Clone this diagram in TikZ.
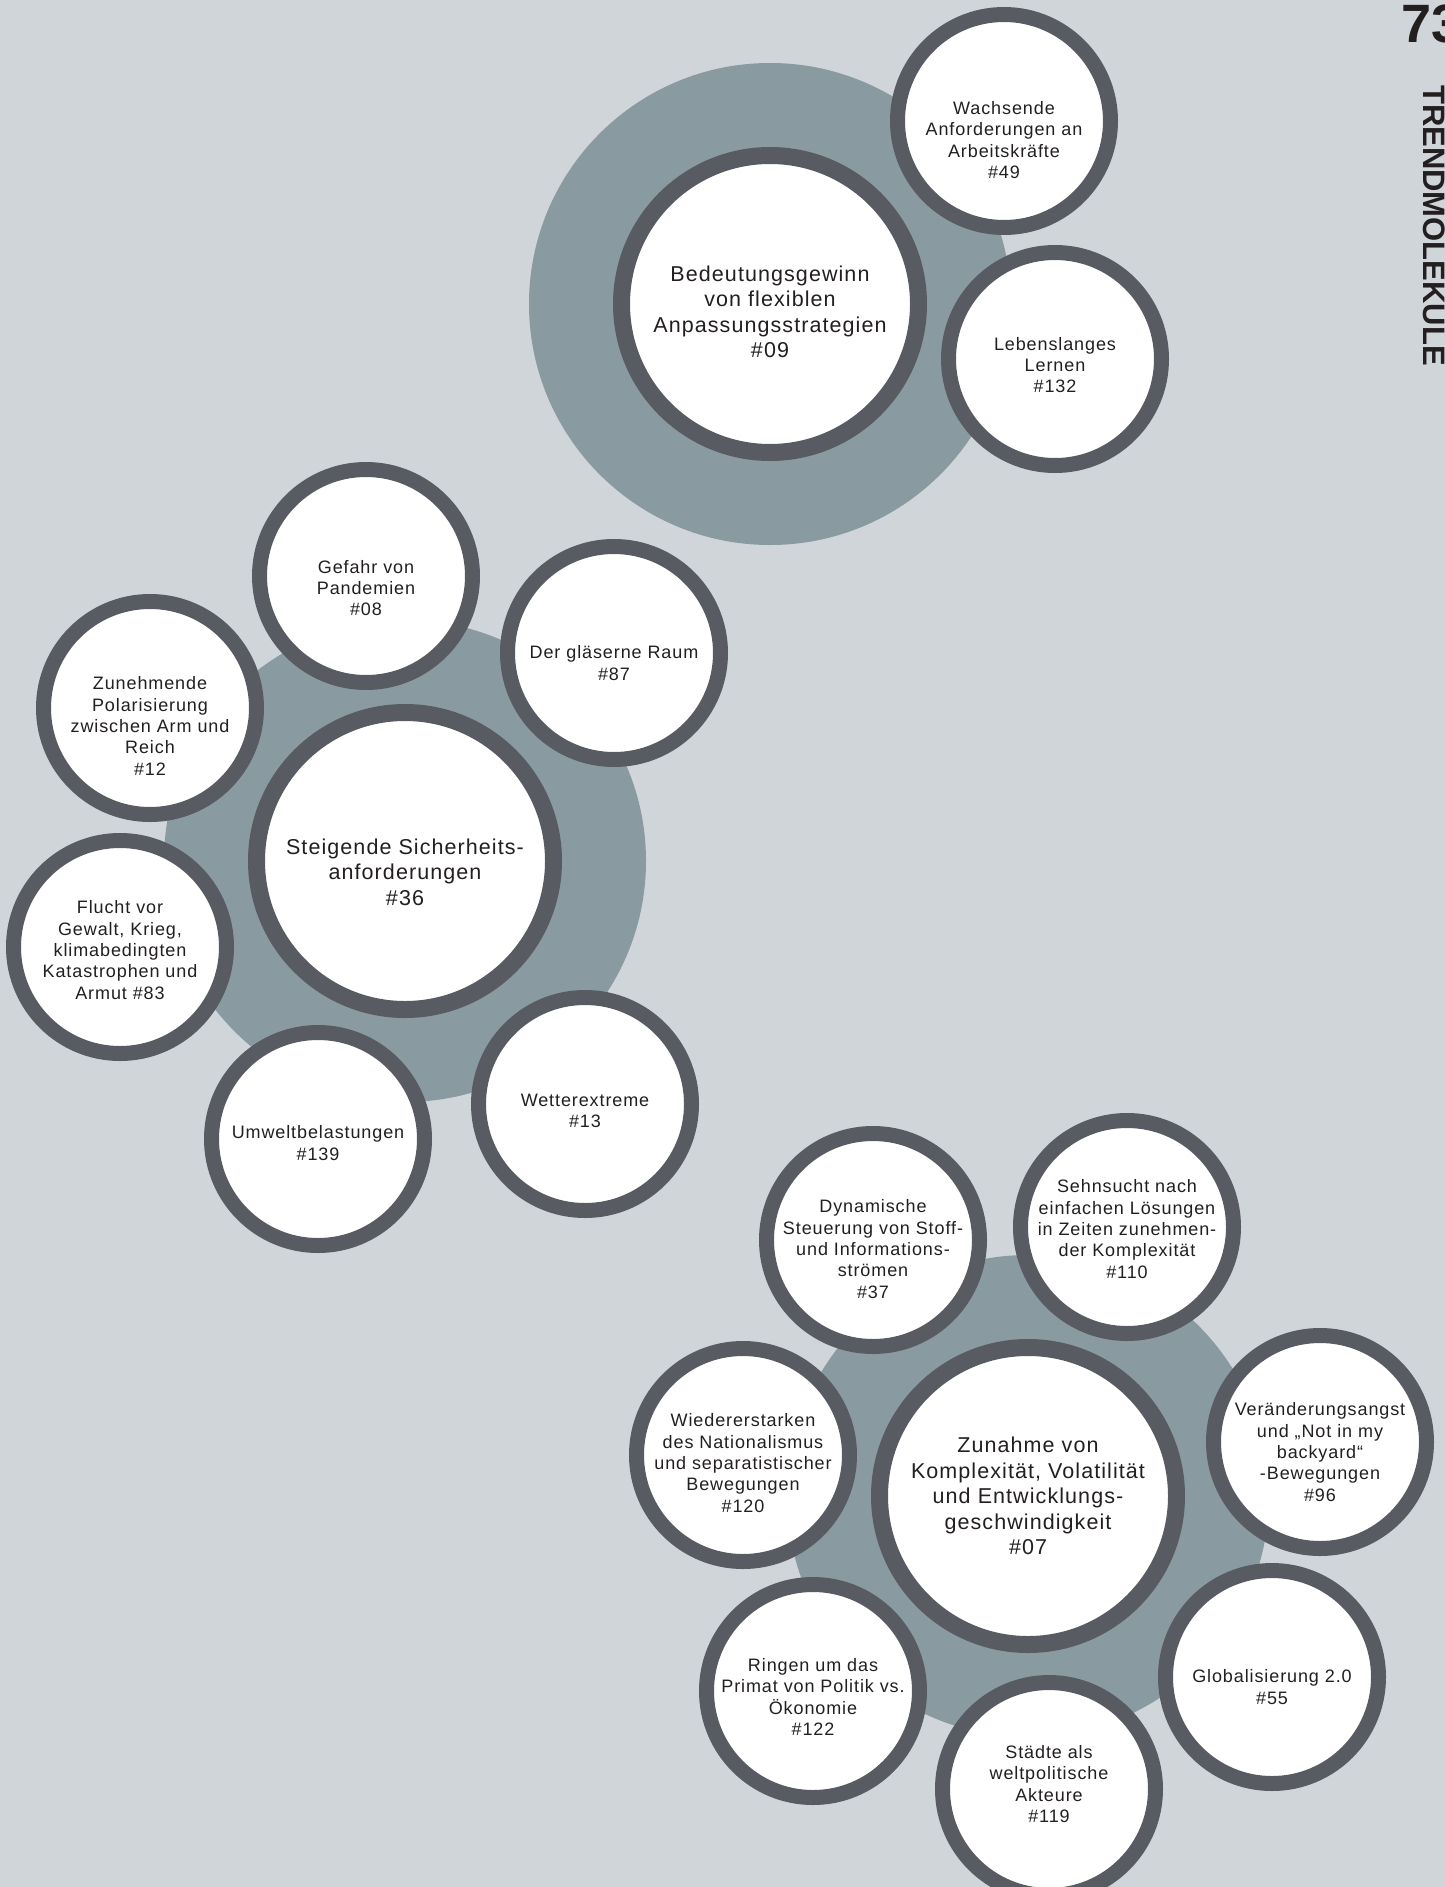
\documentclass[tikz,border=0pt]{standalone}
\usepackage{fontspec}
\setmainfont{Liberation Sans}[LetterSpace=5]
\newfontfamily\headfont{Liberation Sans}[BoldFont={Liberation Sans Bold}]
\definecolor{pagebg}{RGB}{208,213,218}
\definecolor{discgray}{RGB}{137,154,161}
\definecolor{ringgray}{RGB}{88,91,98}
\definecolor{inkcol}{RGB}{35,31,32}
\tikzset{
  bgdisc/.style={circle, fill=discgray, draw=none, minimum size=482pt, inner sep=0pt},
  bigring/.style={circle, fill=white, draw=ringgray, line width=17pt, minimum size=297pt, inner sep=0pt},
  smallring/.style={circle, fill=white, draw=ringgray, line width=15pt, minimum size=213pt, inner sep=0pt},
  bigtext/.style={align=center, inner sep=0pt, text=inkcol, font=\fontsize{21.5}{25.4}\selectfont},
  smalltext/.style={align=center, inner sep=0pt, text=inkcol, font=\fontsize{18}{21.3}\selectfont},
}
\begin{document}
\begin{tikzpicture}[x=1pt,y=-1pt]
\fill[pagebg] (0,0) rectangle (1445,1887);
\useasboundingbox (0,0) rectangle (1445,1887);

% page header
\node[anchor=base west, inner sep=0pt, text=inkcol, font=\headfont\bfseries\fontsize{54}{54}\selectfont] (pagenum) at (1401,42) {73};
\node[anchor=base west, rotate=-90, inner sep=0pt, text=inkcol, font=\headfont\bfseries\fontsize{31}{31}\selectfont] (runhead) at (1423,85) {TRENDMOLEKÜLE};

% ---------- group A ----------
\node[bgdisc] (Abg) at (770,304) {};
\node[bigring] (A09) at (770,304) {};
\node[bigtext] (A09t) at (770,312) {Bedeutungsgewinn\\von flexiblen\\Anpassungsstrategien\\\#09};
\node[smallring] (A49) at (1004,121) {};
\node[smalltext] (A49t) at (1004,140) {Wachsende\\Anforderungen an\\Arbeitskräfte\\\#49};
\node[smallring] (A132) at (1055,359) {};
\node[smalltext] (A132t) at (1055,365) {Lebenslanges\\Lernen\\\#132};

% ---------- group B ----------
\node[bgdisc] (Bbg) at (405,861) {};
\node[bigring] (B36) at (405,861) {};
\node[bigtext] (B36t) at (405,872) {Steigende Sicherheits-\\anforderungen\\\#36};
\node[smallring] (B08) at (366,576) {};
\node[smalltext] (B08t) at (366,588) {Gefahr von\\Pandemien\\\#08};
\node[smallring] (B87) at (614,653) {};
\node[smalltext] (B87t) at (614,663) {Der gläserne Raum\\\#87};
\node[smallring] (B12) at (150,708) {};
\node[smalltext] (B12t) at (150,726) {Zunehmende\\Polarisierung\\zwischen Arm und\\Reich\\\#12};
\node[smallring] (B83) at (120,947) {};
\node[smalltext] (B83t) at (120,950) {Flucht vor\\Gewalt, Krieg,\\klimabedingten\\Katastrophen und\\Armut \#83};
\node[smallring] (B139) at (318,1139) {};
\node[smalltext] (B139t) at (318,1143) {Umweltbelastungen\\\#139};
\node[smallring] (B13) at (585,1104) {};
\node[smalltext] (B13t) at (585,1111) {Wetterextreme\\\#13};

% ---------- group C ----------
\node[bgdisc] (Cbg) at (1028,1496) {};
\node[bigring] (C07) at (1028,1496) {};
\node[bigtext] (C07t) at (1028,1496) {Zunahme von\\Komplexität, Volatilität\\und Entwicklungs-\\geschwindigkeit\\\#07};
\node[smallring] (C37) at (873,1240) {};
\node[smalltext] (C37t) at (873,1249) {Dynamische\\Steuerung von Stoff-\\und Informations-\\strömen\\\#37};
\node[smallring] (C110) at (1127,1227) {};
\node[smalltext] (C110t) at (1127,1229) {Sehnsucht nach\\einfachen Lösungen\\in Zeiten zunehmen-\\der Komplexität\\\#110};
\node[smallring] (C96) at (1320,1442) {};
\node[smalltext] (C96t) at (1320,1452) {Veränderungsangst\\und „Not in my\\backyard“\\-Bewegungen\\\#96};
\node[smallring] (C120) at (743,1455) {};
\node[smalltext] (C120t) at (743,1463) {Wiedererstarken\\des Nationalismus\\und separatistischer\\Bewegungen\\\#120};
\node[smallring] (C55) at (1272,1677) {};
\node[smalltext] (C55t) at (1272,1687) {Globalisierung 2.0\\\#55};
\node[smallring] (C122) at (813,1691) {};
\node[smalltext] (C122t) at (813,1697) {Ringen um das\\Primat von Politik vs.\\Ökonomie\\\#122};
\node[smallring] (C119) at (1049,1789) {};
\node[smalltext] (C119t) at (1049,1784) {Städte als\\weltpolitische\\Akteure\\\#119};
\end{tikzpicture}
\end{document}
